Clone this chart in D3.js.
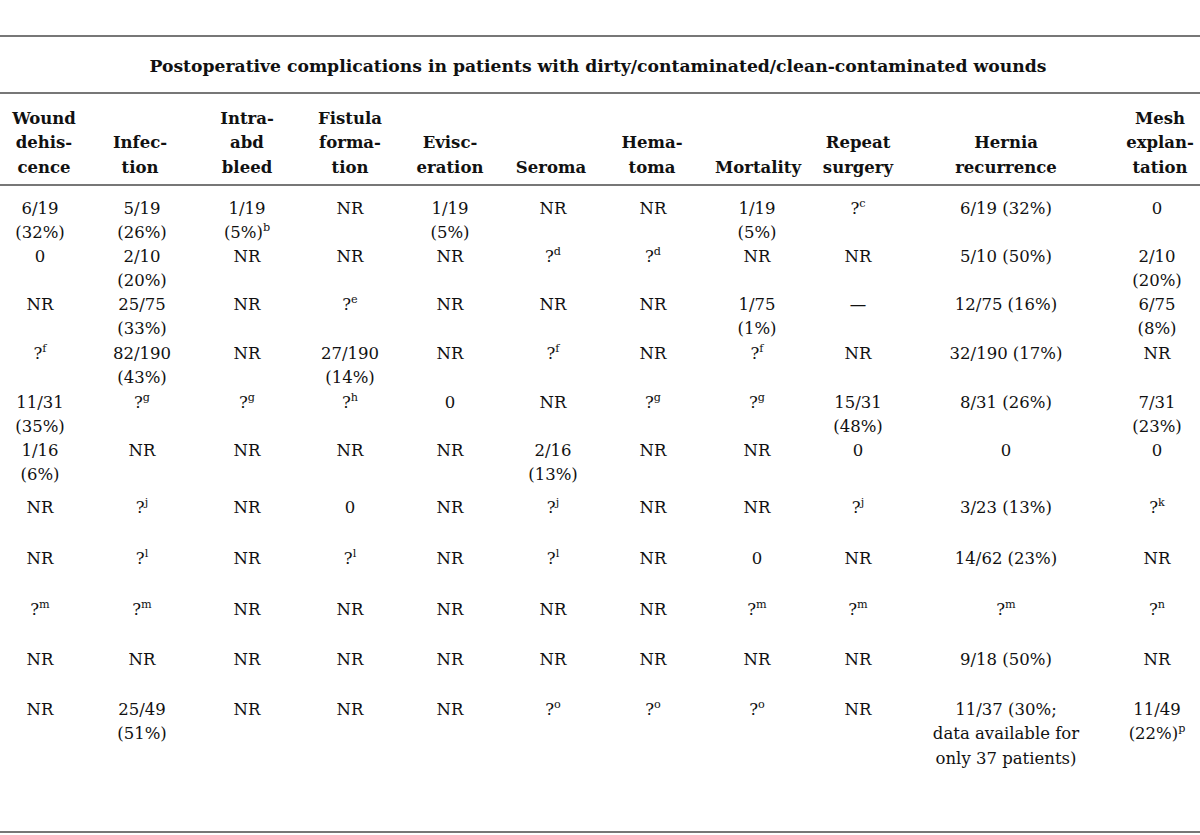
<!DOCTYPE html>
<html><head><meta charset="utf-8">
<script src="https://cdn.jsdelivr.net/npm/d3@7"></script>
<style>html,body{margin:0;padding:0;background:#fff;}svg{display:block;}</style>
</head><body>
<svg id="chart" width="1200" height="835"></svg>
<script>
// ---- data ----
const title = "Postoperative complications in patients with dirty/contaminated/clean-contaminated wounds";
const headers = [
  ["Wound","dehis-","cence"],
  ["Infec-","tion"],
  ["Intra-","abd","bleed"],
  ["Fistula","forma-","tion"],
  ["Evisc-","eration"],
  ["Seroma"],
  ["Hema-","toma"],
  ["Mortality"],
  ["Repeat","surgery"],
  ["Hernia","recurrence"],
  ["Mesh","explan-","tation"]
];
// cell text: "\n" = new line, "^x" = superscript x
const row1  = ["6/19\n(32%)","5/19\n(26%)","1/19\n(5%)^b","NR","1/19\n(5%)","NR","NR","1/19\n(5%)","?^c","6/19 (32%)","0"];
const row2  = ["0","2/10\n(20%)","NR","NR","NR","?^d","?^d","NR","NR","5/10 (50%)","2/10\n(20%)"];
const row3  = ["NR","25/75\n(33%)","NR","?^e","NR","NR","NR","1/75\n(1%)","—","12/75 (16%)","6/75\n(8%)"];
const row4  = ["?^f","82/190\n(43%)","NR","27/190\n(14%)","NR","?^f","NR","?^f","NR","32/190 (17%)","NR"];
const row5  = ["11/31\n(35%)","?^g","?^g","?^h","0","NR","?^g","?^g","15/31\n(48%)","8/31 (26%)","7/31\n(23%)"];
const row6  = ["1/16\n(6%)","NR","NR","NR","NR","2/16\n(13%)","NR","NR","0","0","0"];
const row7  = ["NR","?^j","NR","0","NR","?^j","NR","NR","?^j","3/23 (13%)","?^k"];
const row8  = ["NR","?^l","NR","?^l","NR","?^l","NR","0","NR","14/62 (23%)","NR"];
const row9  = ["?^m","?^m","NR","NR","NR","NR","NR","?^m","?^m","?^m","?^n"];
const row10 = ["NR","NR","NR","NR","NR","NR","NR","NR","NR","9/18 (50%)","NR"];
const row11 = ["NR","25/49\n(51%)","NR","NR","NR","?^o","?^o","?^o","NR","11/37 (30%;\ndata available for\nonly 37 patients)","11/49\n(22%)^p"];
const rows = [row1,row2,row3,row4,row5,row6,row7,row8,row9,row10,row11];

// ---- layout ----
const svg = d3.select("#chart");
const W = 1200;
const font = "'DejaVu Serif',serif";
const fs = 16.5, lh = 24.3;
const colIdx = d3.range(headers.length);
const xHead = d3.scaleOrdinal().domain(colIdx).range([44,140,247,350,450,551,652,758,858,1006,1160]);
const xCell = d3.scaleOrdinal().domain(colIdx).range([40,142,247,350,450,553,653,757,858,1006,1157]);
// row first-line centers
const yRow = d3.scaleOrdinal().domain(d3.range(rows.length))
  .range([208,256,304,353,402,450,507,558,609,659,709]);

const ruleColor = "#4a4a4a";
[36,93,185,832].forEach(y=>{
  svg.append("line").attr("x1",0).attr("x2",W).attr("y1",y).attr("y2",y)
    .attr("stroke",ruleColor).attr("stroke-width",1.6);
});

svg.append("text").attr("x",598).attr("y",66).attr("text-anchor","middle")
  .attr("dominant-baseline","central").attr("font-family",font).attr("font-size",17.2)
  .attr("font-weight","bold").attr("fill","#111").text(title);

// headers, bottom aligned
const lastHeaderY = 167;
headers.forEach((lines,i)=>{
  lines.forEach((ln,k)=>{
    svg.append("text").attr("x",xHead(i)).attr("y",lastHeaderY-(lines.length-1-k)*lh)
      .attr("text-anchor","middle").attr("dominant-baseline","central")
      .attr("font-family",font).attr("font-size",fs).attr("font-weight","bold")
      .attr("fill","#111").text(ln);
  });
});

function addLine(g, str){
  const parts = str.split("^");
  g.append("tspan").text(parts[0]);
  if(parts.length>1){
    g.append("tspan").attr("font-size",fs*0.68).attr("dy",-7).text(parts[1]);
  }
}
rows.forEach((r,ri)=>{
  r.forEach((cell,ci)=>{
    cell.split("\n").forEach((ln,k)=>{
      const t = svg.append("text").attr("x",xCell(ci)).attr("y",yRow(ri)+k*lh+6)
        .attr("text-anchor","middle")
        .attr("font-family",font).attr("font-size",fs).attr("fill","#111");
      addLine(t, ln);
    });
  });
});
</script>
</body></html>
